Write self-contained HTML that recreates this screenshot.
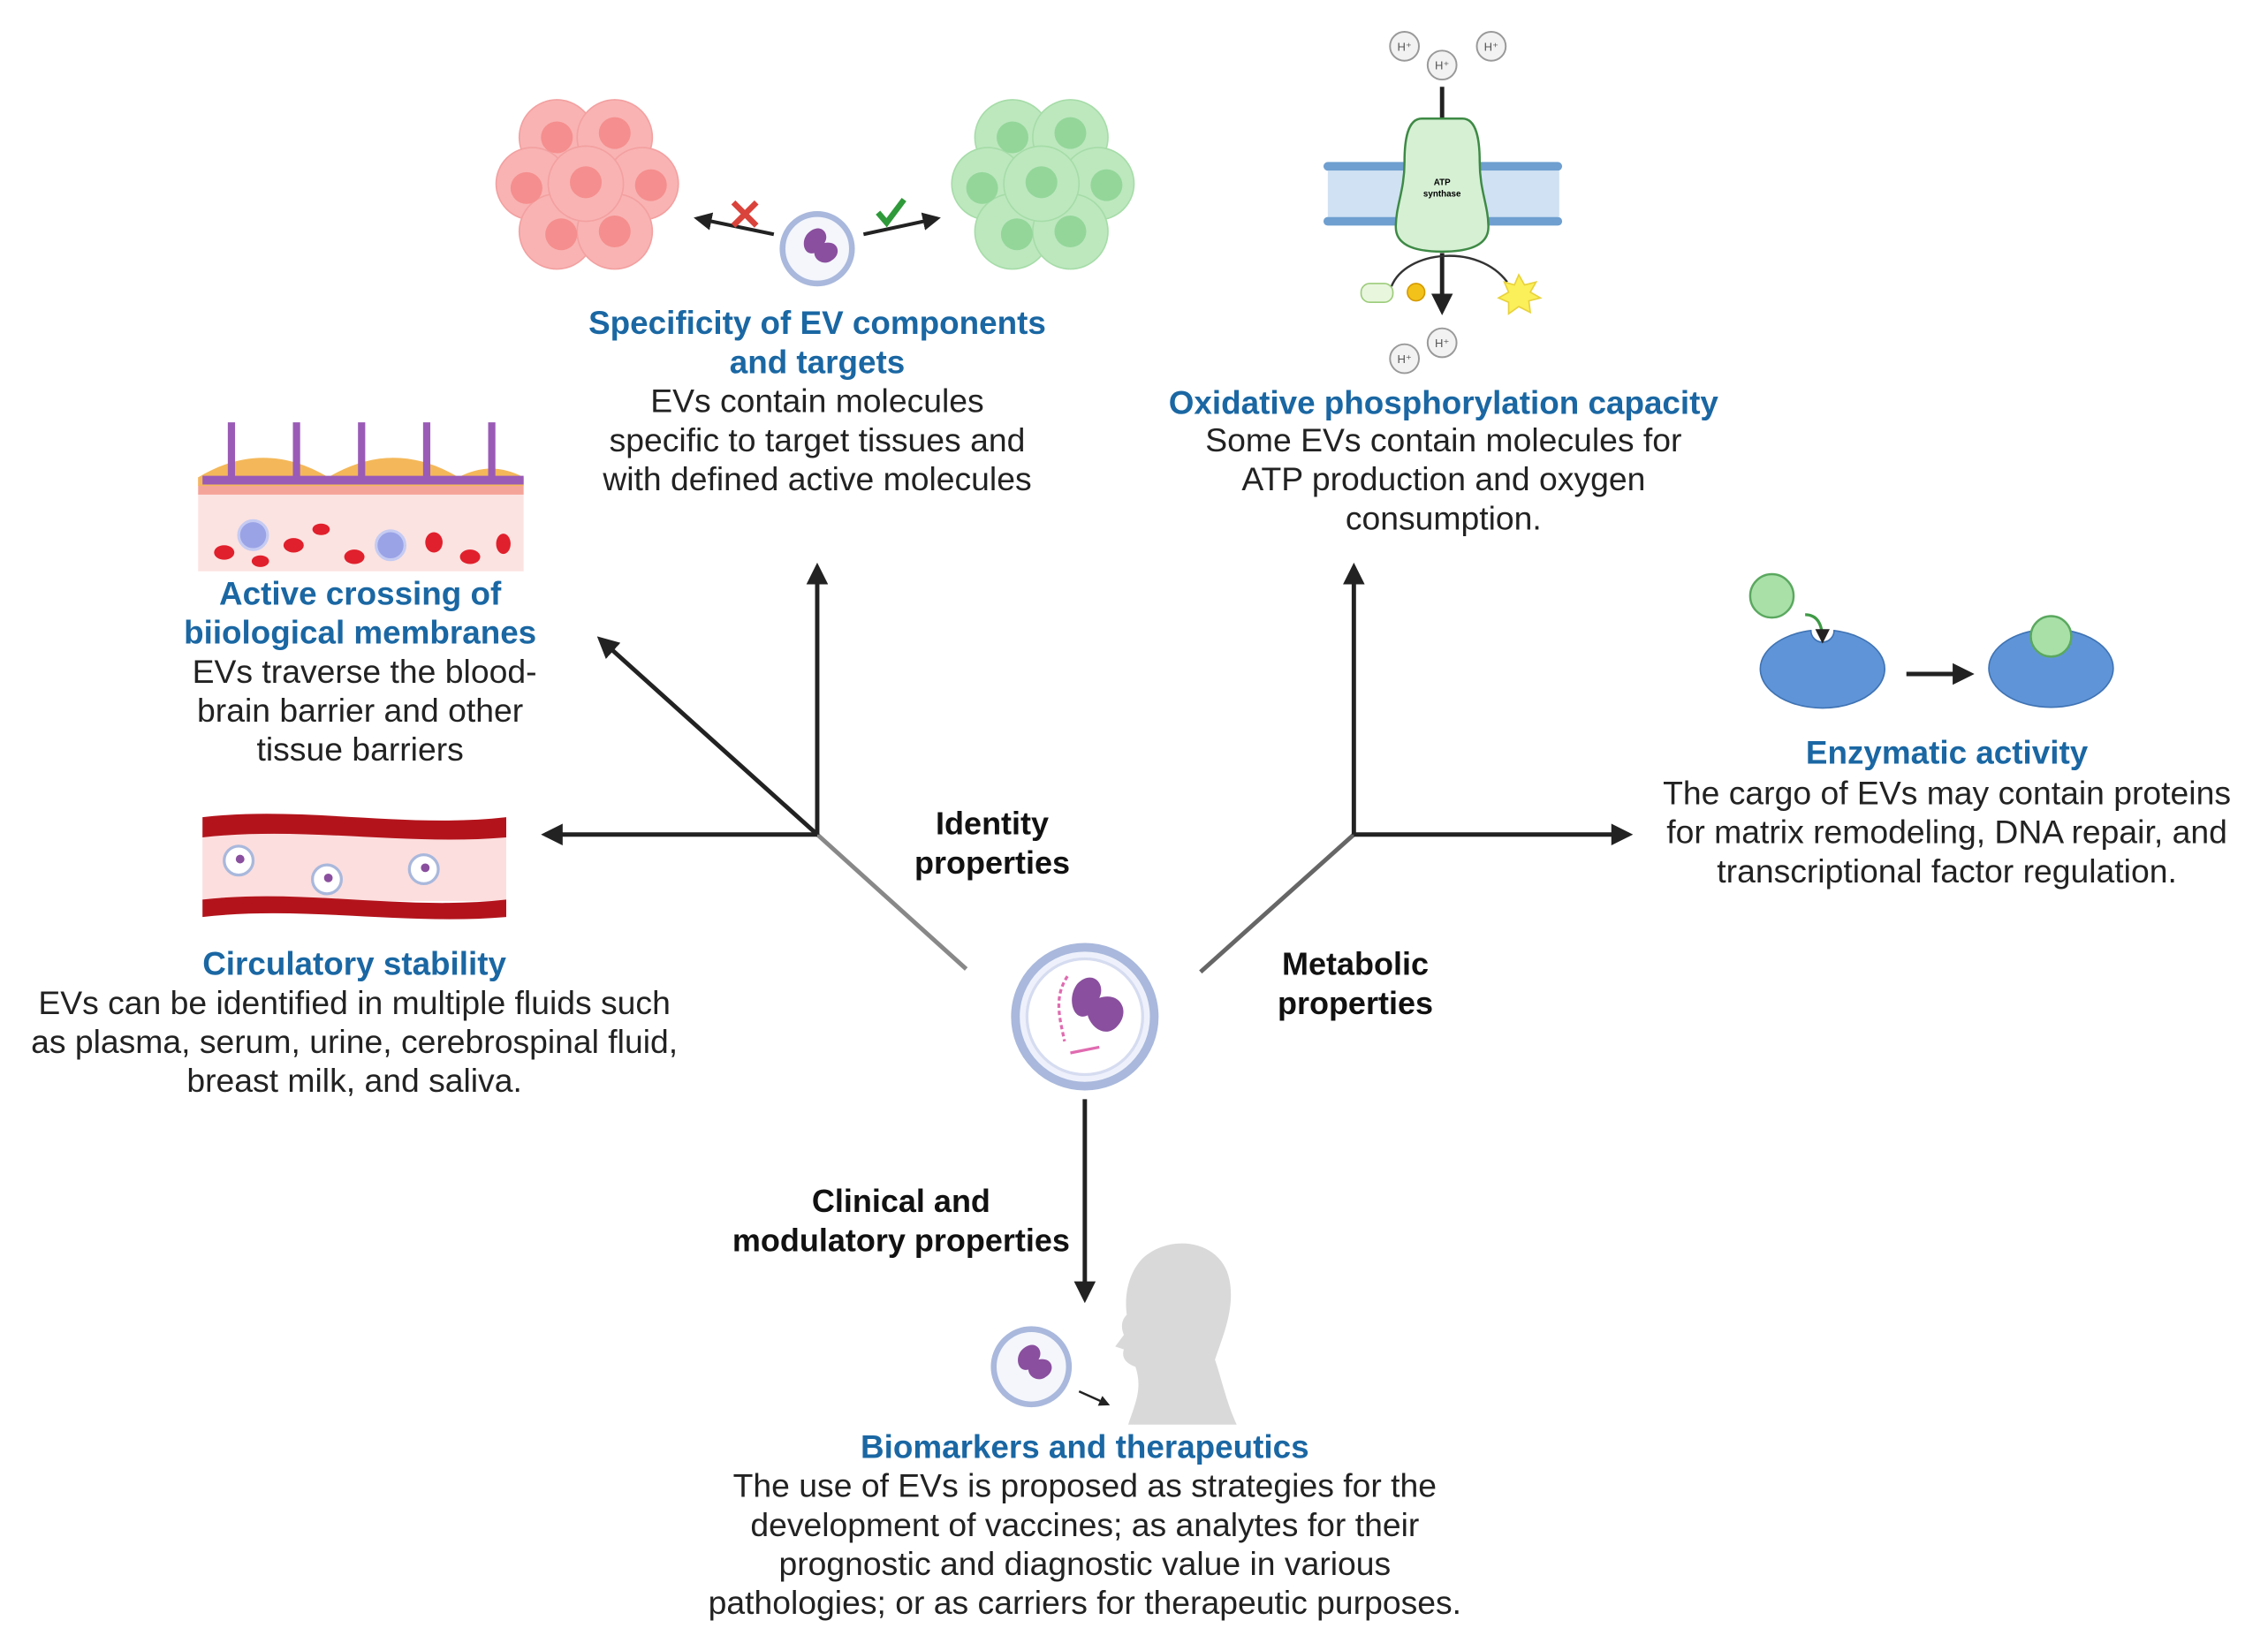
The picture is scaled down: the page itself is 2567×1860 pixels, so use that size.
<!DOCTYPE html>
<html><head><meta charset="utf-8"><style>
html,body{margin:0;padding:0;background:#fff;}
svg{display:block;}
text{font-family:"Liberation Sans",sans-serif;}
.t{fill:#1a67a3;font-weight:bold;font-size:22.5px;text-anchor:middle;}
.b{fill:#222;font-size:22.8px;text-anchor:middle;}
.k{fill:#111;font-weight:bold;font-size:22px;text-anchor:middle;}
</style></head><body>
<svg width="2567" height="1860" viewBox="0 0 1568 1136" preserveAspectRatio="none" xmlns="http://www.w3.org/2000/svg">
<defs>
<marker id="ah" viewBox="0 0 10 10" refX="8" refY="5" markerWidth="5" markerHeight="5" orient="auto-start-reverse"><path d="M0,0L10,5L0,10z" fill="#222"/></marker>
</defs>
<rect width="1568" height="1136" fill="#fff"/>

<g stroke="#222" stroke-width="3" fill="none">
<line x1="668" y1="670" x2="565" y2="577" stroke="#888"/>
<line x1="565" y1="577" x2="565" y2="392" marker-end="url(#ah)"/>
<line x1="565" y1="577" x2="377" y2="577" marker-end="url(#ah)"/>
<line x1="565" y1="577" x2="415" y2="442" marker-end="url(#ah)"/>
<line x1="830" y1="672" x2="936" y2="577" stroke="#666"/>
<line x1="936" y1="577" x2="936" y2="392" marker-end="url(#ah)"/>
<line x1="936" y1="577" x2="1126" y2="577" marker-end="url(#ah)"/>
<line x1="750" y1="760" x2="750" y2="898" marker-end="url(#ah)"/>
</g>

<circle cx="750" cy="703" r="48" fill="#eef1fb" stroke="#a9b8dc" stroke-width="6"/>
<circle cx="750" cy="703" r="40" fill="#fff" stroke="#d6dcf0" stroke-width="2"/>
<path d="M745,680c10,-10 20,0 15,10c15,-5 22,10 12,20c-8,8 -18,0 -20,-8c-10,5 -15,-12 -7,-22z" fill="#8a4f9e"/>
<path d="M738,675c-10,15 -5,30 -2,45" stroke="#e06bb0" stroke-width="2" fill="none" stroke-dasharray="3 2"/>
<path d="M740,728l20,-4" stroke="#e06bb0" stroke-width="2"/>

<g fill="#f9b3b3" stroke="#f3a0a0" stroke-width="1">
<circle cx="385" cy="95" r="26"/><circle cx="425" cy="95" r="26"/>
<circle cx="368" cy="127" r="25"/><circle cx="444" cy="127" r="25"/>
<circle cx="385" cy="160" r="26"/><circle cx="425" cy="160" r="26"/>
<circle cx="405" cy="127" r="26"/>
</g>
<g fill="#f58e8e"><circle cx="385" cy="95" r="11"/><circle cx="425" cy="92" r="11"/><circle cx="364" cy="130" r="11"/><circle cx="450" cy="128" r="11"/><circle cx="405" cy="126" r="11"/><circle cx="388" cy="162" r="11"/><circle cx="425" cy="160" r="11"/></g>
<g fill="#bde8be" stroke="#a6dca8" stroke-width="1">
<circle cx="700" cy="95" r="26"/><circle cx="740" cy="95" r="26"/>
<circle cx="683" cy="127" r="25"/><circle cx="759" cy="127" r="25"/>
<circle cx="700" cy="160" r="26"/><circle cx="740" cy="160" r="26"/>
<circle cx="720" cy="127" r="26"/>
</g>
<g fill="#94d69a"><circle cx="700" cy="95" r="11"/><circle cx="740" cy="92" r="11"/><circle cx="679" cy="130" r="11"/><circle cx="765" cy="128" r="11"/><circle cx="720" cy="126" r="11"/><circle cx="703" cy="162" r="11"/><circle cx="740" cy="160" r="11"/></g>
<circle cx="565" cy="172" r="24" fill="#f4f6fc" stroke="#a9b8dc" stroke-width="4"/>
<path d="M560,160c8,-6 14,2 10,8c10,-2 12,8 5,12c-5,4 -12,0 -12,-5c-8,2 -10,-10 -3,-15z" fill="#8a4f9e"/>
<g stroke="#222" stroke-width="2.5" fill="none">
<line x1="535" y1="162" x2="482" y2="151" marker-end="url(#ah)"/>
<line x1="597" y1="162" x2="648" y2="151" marker-end="url(#ah)"/>
</g>
<path d="M507,140l16,16M523,140l-16,16" stroke="#d9433b" stroke-width="4"/>
<path d="M607,147l6,7l12,-16" stroke="#2f9a3a" stroke-width="4" fill="none"/>

<g fill="#6f9fd0">
<rect x="915" y="112" width="165" height="6" rx="3"/><rect x="915" y="150" width="165" height="6" rx="3"/>
</g>
<rect x="918" y="118" width="160" height="32" fill="#cfe1f3"/>
<line x1="997" y1="60" x2="997" y2="90" stroke="#222" stroke-width="3"/>
<path d="M983,82c-10,0 -12,15 -12,30c0,20 -6,30 -6,45c0,12 12,17 32,17c20,0 32,-5 32,-17c0,-15 -6,-25 -6,-45c0,-15 -2,-30 -12,-30z" fill="#d6f0d4" stroke="#3e8a45" stroke-width="1.5"/>
<text x="997" y="128" font-size="6" text-anchor="middle" font-weight="bold">ATP</text>
<text x="997" y="136" font-size="6" text-anchor="middle" font-weight="bold">synthase</text>
<line x1="997" y1="175" x2="997" y2="215" stroke="#222" stroke-width="3" marker-end="url(#ah)"/>
<path d="M962,198c10,-25 60,-30 80,-3" stroke="#333" stroke-width="1.5" fill="none"/>
<rect x="941" y="196" width="22" height="13" rx="6" fill="#e9f6de" stroke="#9ccc7a"/>
<circle cx="979" cy="202" r="6" fill="#f3c21a" stroke="#d49a00"/>
<polygon points="1050,190 1054,197 1062,195 1058,202 1065,206 1057,208 1058,216 1050,212 1043,217 1043,209 1036,206 1043,202 1040,195 1047,197" fill="#fbef5a" stroke="#e8d23b"/>
<g fill="#f2f2f2" stroke="#999" stroke-width="1.2">
<circle cx="971" cy="32" r="10"/><circle cx="997" cy="45" r="10"/><circle cx="1031" cy="32" r="10"/><circle cx="971" cy="248" r="10"/><circle cx="997" cy="237" r="10"/>
</g>
<g font-size="8" text-anchor="middle" fill="#555"><text x="971" y="35">H⁺</text><text x="997" y="48">H⁺</text><text x="1031" y="35">H⁺</text><text x="971" y="251">H⁺</text><text x="997" y="240">H⁺</text></g>

<rect x="137" y="335" width="225" height="60" fill="#fbe3e1"/>
<rect x="137" y="330" width="225" height="12" fill="#f5a49a"/>
<path d="M137,330c30,-18 60,-18 90,0c30,-18 60,-18 90,0c15,-8 30,-8 45,0v6h-225z" fill="#f4b85a"/>
<g stroke="#9a5bb6" stroke-width="5" fill="none">
<path d="M160,292v40M205,292v40M250,292v40M295,292v40M340,292v40"/>
<path d="M140,332h222" stroke-width="6"/>
</g>
<g fill="#e0202c">
<ellipse cx="155" cy="382" rx="7" ry="5"/><ellipse cx="203" cy="377" rx="7" ry="5"/><ellipse cx="222" cy="366" rx="6" ry="4"/><ellipse cx="245" cy="385" rx="7" ry="5"/><ellipse cx="300" cy="375" rx="6" ry="7"/><ellipse cx="325" cy="385" rx="7" ry="5"/><ellipse cx="348" cy="376" rx="5" ry="7"/><ellipse cx="180" cy="388" rx="6" ry="4"/>
</g>
<circle cx="175" cy="370" r="10" fill="#9aa3e6" stroke="#c5cbf2" stroke-width="2"/>
<circle cx="270" cy="377" r="10" fill="#9aa3e6" stroke="#c5cbf2" stroke-width="2"/>

<rect x="140" y="575" width="210" height="48" fill="#fcdede"/>
<path d="M140,565c70,-8 140,8 210,0v14c-70,6 -140,-8 -210,0z" fill="#b3141c"/>
<path d="M140,622c70,-8 140,8 210,0v12c-70,6 -140,-8 -210,0z" fill="#b3141c"/>
<g fill="#fff" stroke="#a9b8dc" stroke-width="2"><circle cx="165" cy="595" r="10"/><circle cx="226" cy="608" r="10"/><circle cx="293" cy="601" r="10"/></g>
<g fill="#8a4f9e"><circle cx="166" cy="594" r="3"/><circle cx="227" cy="607" r="3"/><circle cx="294" cy="600" r="3"/></g>

<circle cx="1225" cy="412" r="15" fill="#a8e0a8" stroke="#5aa85f" stroke-width="1.5"/>
<path d="M1252,436a43,27 0 1 0 16,0a8,8 0 0 1 -16,0z" fill="#5f95d8" stroke="#3f73b4"/>
<path d="M1248,425q12,0 12,18" stroke="#3e9a45" stroke-width="2" fill="none" marker-end="url(#ah)"/>
<line x1="1318" y1="466" x2="1362" y2="466" stroke="#222" stroke-width="3" marker-end="url(#ah)"/>
<ellipse cx="1418" cy="462" rx="43" ry="27" fill="#5f95d8" stroke="#3f73b4"/>
<circle cx="1418" cy="440" r="14" fill="#a8e0a8" stroke="#5aa85f" stroke-width="1.5"/>

<path d="M790,870c20,-18 55,-12 60,15c4,20 -5,40 -10,55c5,15 8,30 15,45h-75c5,-15 10,-25 5,-40c-6,-2 -10,-6 -8,-12l-6,-2l6,-8c-2,-5 -2,-10 2,-14c-2,-15 2,-30 11,-39z" fill="#d9d9d9"/>
<circle cx="713" cy="945" r="26" fill="#f4f6fc" stroke="#a9b8dc" stroke-width="4"/>
<path d="M708,932c8,-6 14,2 10,8c10,-2 12,8 5,12c-5,4 -12,0 -12,-5c-8,2 -10,-10 -3,-15z" fill="#8a4f9e"/>
<line x1="746" y1="962" x2="766" y2="971" stroke="#222" stroke-width="1.5" marker-end="url(#ah)"/>

<text class="t" x="565" y="231">Specificity of EV components</text>
<text class="t" x="565" y="258">and targets</text>
<text class="b" x="565" y="285">EVs contain molecules</text>
<text class="b" x="565" y="312">specific to target tissues and</text>
<text class="b" x="565" y="339">with defined active molecules</text>

<text class="t" x="998" y="286">Oxidative phosphorylation capacity</text>
<text class="b" x="998" y="312">Some EVs contain molecules for</text>
<text class="b" x="998" y="339">ATP production and oxygen</text>
<text class="b" x="998" y="366">consumption.</text>

<text class="t" x="249" y="418">Active crossing of</text>
<text class="t" x="249" y="445">biiological membranes</text>
<text class="b" x="252" y="472">EVs traverse the blood-</text>
<text class="b" x="249" y="499">brain barrier and other</text>
<text class="b" x="249" y="526">tissue barriers</text>

<text class="t" x="245" y="674">Circulatory stability</text>
<text class="b" x="245" y="701">EVs can be identified in multiple fluids such</text>
<text class="b" x="245" y="728">as plasma, serum, urine, cerebrospinal fluid,</text>
<text class="b" x="245" y="755">breast milk, and saliva.</text>

<text class="t" x="1346" y="528">Enzymatic activity</text>
<text class="b" x="1346" y="556">The cargo of EVs may contain proteins</text>
<text class="b" x="1346" y="583">for matrix remodeling, DNA repair, and</text>
<text class="b" x="1346" y="610">transcriptional factor regulation.</text>

<text class="k" x="686" y="577">Identity</text>
<text class="k" x="686" y="604">properties</text>
<text class="k" x="937" y="674">Metabolic</text>
<text class="k" x="937" y="701">properties</text>
<text class="k" x="623" y="838">Clinical and</text>
<text class="k" x="623" y="865">modulatory properties</text>

<text class="t" x="750" y="1008">Biomarkers and therapeutics</text>
<text class="b" x="750" y="1035">The use of EVs is proposed as strategies for the</text>
<text class="b" x="750" y="1062">development of vaccines; as analytes for their</text>
<text class="b" x="750" y="1089">prognostic and diagnostic value in various</text>
<text class="b" x="750" y="1116">pathologies; or as carriers for therapeutic purposes.</text>
</svg>
</body></html>
